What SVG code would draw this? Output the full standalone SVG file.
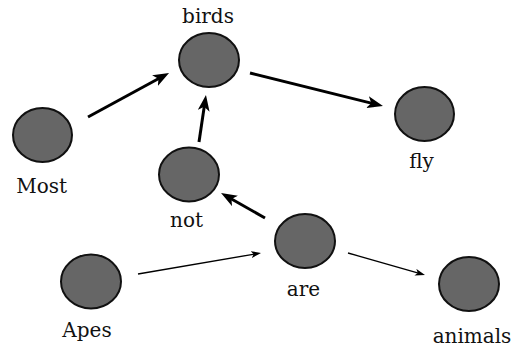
<svg xmlns="http://www.w3.org/2000/svg" width="516" height="348" viewBox="0 0 516 348">
<style>
.node ellipse{fill:#666666;stroke:#111111;stroke-width:2}
.node text{font-family:"DejaVu Serif","Liberation Serif",serif;font-size:20px;fill:#111111;text-anchor:middle}
.thick{stroke:#000;stroke-width:3;fill:none;marker-end:url(#headL)}
.thin{stroke:#000;stroke-width:1.3;fill:none;marker-end:url(#headS)}
</style>
<defs>
<marker id="headL" viewBox="0 0 16 12" refX="8" refY="6" markerWidth="16" markerHeight="12" markerUnits="userSpaceOnUse" orient="auto">
<path d="M0,0 L16,6 L0,12 L4,6 Z" fill="#000"/>
</marker>
<marker id="headS" viewBox="0 0 10 7" refX="5" refY="3.5" markerWidth="10" markerHeight="7" markerUnits="userSpaceOnUse" orient="auto">
<path d="M0,0 L10,3.5 L0,7 L2.5,3.5 Z" fill="#000"/>
</marker>
</defs>
<rect width="516" height="348" fill="#ffffff"/>
<g id="connectors">
<path class="thick" d="M88,117 L162,76.8"/>
<path class="thick" d="M250,73 L375.2,104.1"/>
<path class="thick" d="M199,142 L204.8,102.9"/>
<path class="thick" d="M265,218 L228,197"/>
<path class="thin" d="M138,274 L256.1,253.8"/>
<path class="thin" d="M348,253 L420.2,273.6"/>
</g>
<g id="node-birds" class="node"><ellipse cx="209" cy="60" rx="30" ry="27"/><text x="208" y="23">birds</text></g>
<g id="node-most" class="node"><ellipse cx="42.5" cy="135" rx="29.5" ry="27"/><text x="41.7" y="193">Most</text></g>
<g id="node-fly" class="node"><ellipse cx="424.5" cy="114" rx="29.5" ry="27"/><text x="421.5" y="168">fly</text></g>
<g id="node-not" class="node"><ellipse cx="189" cy="174.5" rx="30" ry="27"/><text x="186.5" y="227">not</text></g>
<g id="node-are" class="node"><ellipse cx="305" cy="241" rx="30" ry="27"/><text x="303.5" y="296">are</text></g>
<g id="node-apes" class="node"><ellipse cx="91" cy="281.5" rx="30" ry="27"/><text x="87" y="337">Apes</text></g>
<g id="node-animals" class="node"><ellipse cx="469" cy="284" rx="30" ry="27"/><text x="472" y="343" font-size="19.5">animals</text></g>
</svg>
